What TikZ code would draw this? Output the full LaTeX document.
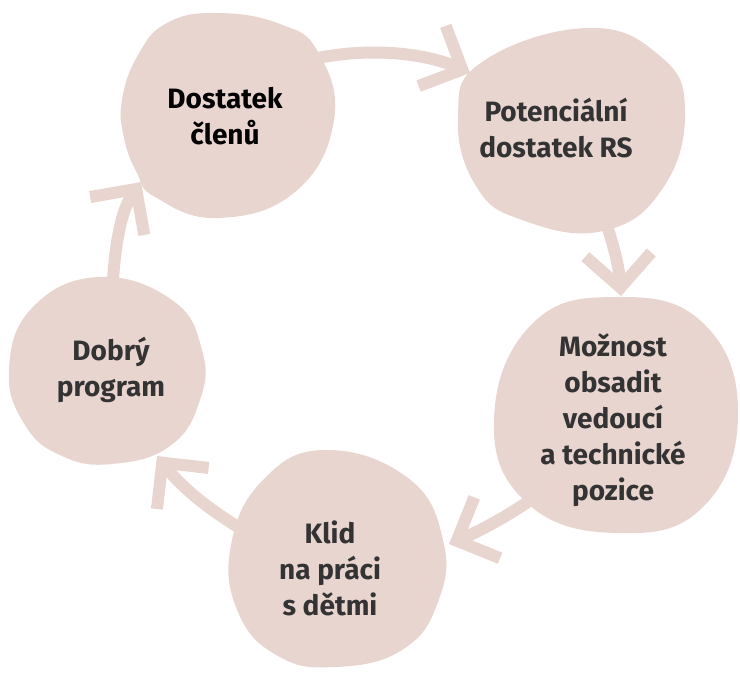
\documentclass[tikz,border=0pt]{standalone}
\usepackage{fontspec}
\setmainfont{Fira Sans}
\usetikzlibrary{arrows.meta}
\definecolor{blob}{HTML}{E9D5CF}
\definecolor{txt}{HTML}{333333}
\begin{document}
\begin{tikzpicture}[x=1pt,y=-1pt,
  blobfill/.style={fill=blob},
  conn/.style={draw=blob, line width=12pt, line cap=butt,
    -{Straight Barb[length=33pt,width=66pt,line width=12pt,line join=miter,line cap=butt]}},
  lbl/.style={font=\bfseries\fontsize{28}{36}\selectfont, align=center, text=txt}]
\useasboundingbox (0,0) rectangle (740,674);
% blobs
\fill[blobfill] plot[smooth cycle, tension=0.75] coordinates {(217,13) (167,23) (138,55) (122,100) (124,138) (137,173) (155,197) (217,218) (295,192) (334,120) (318,52) (280,24)};
\fill[blobfill] plot[smooth cycle, tension=0.75] coordinates {(587,28) (482,62) (458,117) (476,186) (522,220) (603,231) (663,188) (685,110) (660,56)};
\fill[blobfill] plot[smooth cycle, tension=0.75] coordinates {(617,297) (532,324) (494,420) (527,503) (617,533) (703,507) (738,413) (703,323)};
\fill[blobfill] plot[smooth cycle, tension=0.75] coordinates {(325,450) (263,480) (231,545) (238,612) (278,656) (335,667) (402,650) (438,602) (443,540) (408,478)};
\fill[blobfill] plot[smooth cycle, tension=0.75] coordinates {(98,277) (32,308) (9,370) (25,425) (62,456) (112,464) (170,446) (200,400) (202,350) (172,300)};
% connector end points
\coordinate (s1) at (300,62);  \coordinate (e1) at (470,73);
\coordinate (s2) at (602,210); \coordinate (e2) at (621,296);
\coordinate (s3) at (548,488); \coordinate (e3) at (449,544);
\coordinate (s4) at (262,541); \coordinate (e4) at (157,456);
\coordinate (s5) at (112,298); \coordinate (e5) at (141,182);
% connectors
\draw[conn] (s1) .. controls (370,44) and (430,55) .. (e1);
\draw[conn] (s2) .. controls (612,240) and (619,265) .. (e2);
\draw[conn] (s3) .. controls (512,514) and (482,530) .. (e3);
\draw[conn] (s4) .. controls (215,515) and (184,490) .. (e4);
\draw[conn] (s5) .. controls (114,250) and (120,212) .. (e5);
% labels
\node[lbl, text=black] (n1) at (225,116) {Dostatek\\členů};
\node[lbl] (n2) at (556,128) {Potenciální\\dostatek RS};
\node[lbl] (n3) at (613,420) {Možnost\\obsadit\\vedoucí\\a technické\\pozice};
\node[lbl] (n4) at (330,568) {Klid\\na práci\\s dětmi};
\node[lbl] (n5) at (111,370) {Dobrý\\program};
\end{tikzpicture}
\end{document}
